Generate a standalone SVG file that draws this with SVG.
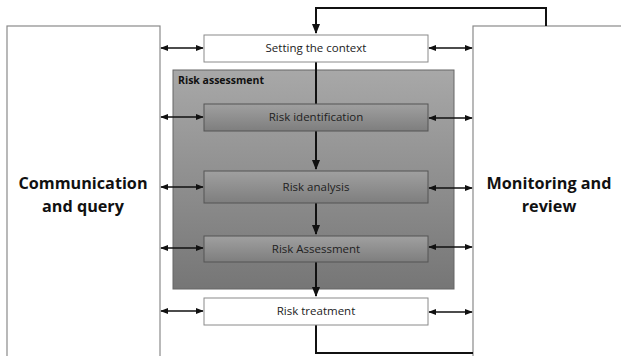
<svg xmlns="http://www.w3.org/2000/svg" width="621" height="356" viewBox="0 0 621 356">
<defs>
<linearGradient id="gOuter" x1="0" y1="0" x2="0" y2="1">
<stop offset="0" stop-color="#a8a8a8"/>
<stop offset="1" stop-color="#767676"/>
</linearGradient>
<linearGradient id="gInner" x1="0" y1="0" x2="0" y2="1">
<stop offset="0" stop-color="#a0a0a0"/>
<stop offset="1" stop-color="#7e7e7e"/>
</linearGradient>
<marker id="ah" viewBox="0 0 10 10" refX="9" refY="5" markerWidth="5" markerHeight="5" orient="auto-start-reverse" markerUnits="strokeWidth">
<path d="M0,1 L10,5 L0,9 z" fill="#111"/>
</marker>
</defs>
<style>
.side{fill:#fff;stroke:#8a8a8a;stroke-width:1.2}
.white{fill:#fff;stroke:#8a8a8a;stroke-width:1}
.grey{fill:url(#gInner);stroke:#555;stroke-width:1}
.big{font-family:"Open Sans","Liberation Sans",sans-serif;font-weight:bold;font-size:16.2px;fill:#111;text-anchor:middle}
.lbl{font-family:"Open Sans","Liberation Sans",sans-serif;font-size:11.5px;fill:#222;text-anchor:middle}
.ttl{font-family:"Open Sans","Liberation Sans",sans-serif;font-weight:bold;font-size:10.5px;fill:#111}
.ln{fill:none;stroke:#111;stroke-width:2}
.dbl{fill:none;stroke:#111;stroke-width:1.6;marker-start:url(#ah);marker-end:url(#ah)}
</style>
<g id="communication">
<rect class="side" x="7" y="26" width="153" height="340"/>
<text class="big" x="83" y="189">Communication</text>
<text class="big" x="83" y="212">and query</text>
</g>
<g id="monitoring">
<rect class="side" x="473" y="26" width="160" height="340"/>
<text class="big" x="549" y="189">Monitoring and</text>
<text class="big" x="549" y="212">review</text>
</g>
<g id="risk-assessment-group">
<rect x="173" y="70" width="281" height="219" fill="url(#gOuter)" stroke="#666" stroke-width="1"/>
<text class="ttl" x="178" y="84">Risk assessment</text>
</g>
<g id="connectors">
<path class="ln" d="M546,26 V8 H316 V33" marker-end="url(#ah)"/>
<path class="ln" d="M316,62 V104"/>
<path class="ln" d="M316,131 V169" marker-end="url(#ah)"/>
<path class="ln" d="M316,203 V234" marker-end="url(#ah)"/>
<path class="ln" d="M316,262 V296" marker-end="url(#ah)"/>
<path class="ln" d="M316,325 V353 H473"/>
<path class="dbl" d="M161,48 H203"/>
<path class="dbl" d="M161,117 H203"/>
<path class="dbl" d="M161,187 H203"/>
<path class="dbl" d="M161,248 H203"/>
<path class="dbl" d="M161,311 H203"/>
<path class="dbl" d="M429,48 H472"/>
<path class="dbl" d="M429,118 H472"/>
<path class="dbl" d="M429,188 H472"/>
<path class="dbl" d="M429,247 H472"/>
<path class="dbl" d="M429,312 H472"/>
</g>
<g id="setting-context">
<rect class="white" x="204" y="35" width="224" height="27"/>
<text class="lbl" x="316" y="52">Setting the context</text>
</g>
<g id="risk-identification">
<rect class="grey" x="204" y="104" width="224" height="27"/>
<text class="lbl" x="316" y="121">Risk identification</text>
</g>
<g id="risk-analysis">
<rect class="grey" x="204" y="171" width="224" height="32"/>
<text class="lbl" x="316" y="191">Risk analysis</text>
</g>
<g id="risk-assessment-step">
<rect class="grey" x="204" y="236" width="224" height="26"/>
<text class="lbl" x="316" y="253">Risk Assessment</text>
</g>
<g id="risk-treatment">
<rect class="white" x="204" y="298" width="224" height="27"/>
<text class="lbl" x="316" y="315">Risk treatment</text>
</g>
</svg>
